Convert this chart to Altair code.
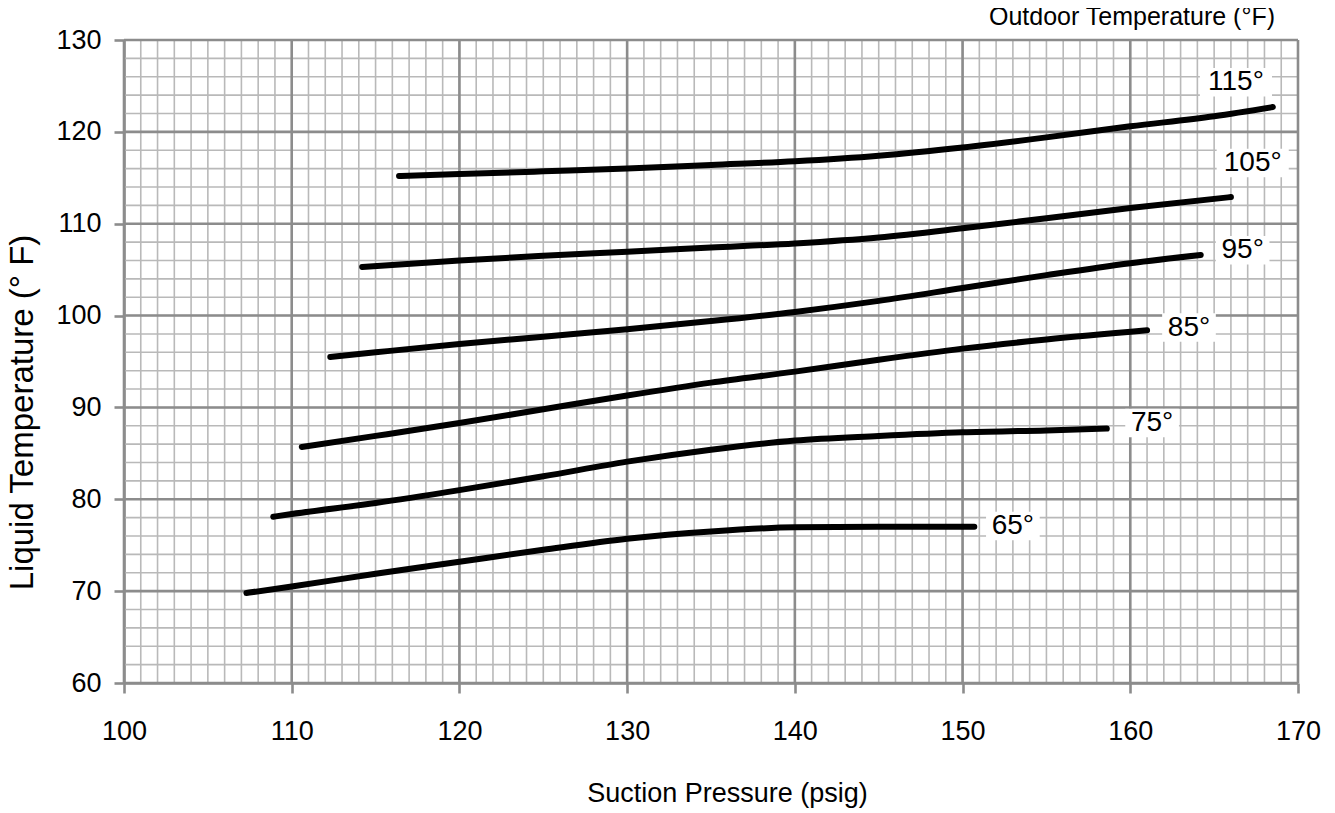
import altair as alt
import pandas as pd

# ---- data ----
series = ["65°", "75°", "85°", "95°", "105°", "115°"]

x65 = [107.3, 110, 115, 120, 125, 130, 135, 140, 145, 150.7]
y65 = [69.8, 70.5, 71.9, 73.2, 74.5, 75.7, 76.5, 76.95, 77.0, 77.0]

x75 = [108.9, 110, 115, 120, 125, 130, 135, 140, 145, 150, 155, 158.6]
y75 = [78.1, 78.4, 79.6, 81.0, 82.5, 84.1, 85.4, 86.4, 86.9, 87.3, 87.5, 87.7]

x85 = [110.6, 115, 120, 125, 130, 135, 140, 145, 150, 155, 161.0]
y85 = [85.7, 86.9, 88.3, 89.8, 91.3, 92.7, 93.9, 95.2, 96.4, 97.4, 98.4]

x95 = [112.3, 115, 120, 125, 130, 135, 140, 145, 150, 155, 160, 164.2]
y95 = [95.5, 96.0, 96.9, 97.7, 98.5, 99.4, 100.4, 101.6, 103.0, 104.4, 105.7, 106.6]

x105 = [114.2, 120, 125, 130, 135, 140, 145, 150, 155, 160, 166.0]
y105 = [105.3, 106.0, 106.5, 106.95, 107.4, 107.85, 108.5, 109.5, 110.6, 111.7, 112.9]

x115 = [116.4, 120, 125, 130, 135, 140, 145, 150, 155, 160, 165, 168.5]
y115 = [115.2, 115.4, 115.7, 116.0, 116.4, 116.8, 117.4, 118.3, 119.4, 120.6, 121.7, 122.7]

label_x = [153.0, 161.3, 163.5, 166.7, 167.3, 166.3]
label_y = [77.1, 88.3, 98.7, 107.1, 116.6, 125.4]

x_ticks = [100, 110, 120, 130, 140, 150, 160, 170]
y_ticks = [60, 70, 80, 90, 100, 110, 120, 130]
x_minor = list(range(100, 171, 1))
y_minor = list(range(60, 131, 2))

# ---- tables ----
rows = []
for name, xs, ys in zip(series,
                        [x65, x75, x85, x95, x105, x115],
                        [y65, y75, y85, y95, y105, y115]):
    for i, (a, b) in enumerate(zip(xs, ys)):
        rows.append({"series": name, "p": a, "t": b, "i": i})
curves = pd.DataFrame(rows)

labels = pd.DataFrame({"label": series, "lx": label_x, "ly": label_y})

XS = alt.Scale(domain=[100, 170], nice=False, zero=False)
YS = alt.Scale(domain=[60, 130], nice=False, zero=False)

FONT = "Liberation Sans"
MAJOR = "#8c8c8c"
MINOR = "#b9b9b9"

XAX = alt.Axis(values=x_ticks, title="Suction Pressure (psig)", grid=False,
               labelFlush=False, labelPadding=25,
               titleX=603, titleY=110, titleBaseline="middle", titleAlign="center",
               titleFontSize=27)
YAX = alt.Axis(values=y_ticks, title="Liquid Temperature (° F)", grid=False,
               labelFlush=False, labelPadding=13,
               titleX=-102, titleY=372, titleAngle=-90, titleBaseline="middle",
               titleAlign="center", titleFontSize=33)

xminor = alt.Chart(pd.DataFrame({"v": x_minor})).mark_rule(
    color=MINOR, strokeWidth=1.6).encode(
    x=alt.X("v:Q", scale=XS, axis=XAX))
yminor = alt.Chart(pd.DataFrame({"v": y_minor})).mark_rule(
    color=MINOR, strokeWidth=1.6).encode(
    y=alt.Y("v:Q", scale=YS, axis=YAX))
xmajor = alt.Chart(pd.DataFrame({"v": x_ticks})).mark_rule(
    color=MAJOR, strokeWidth=2.6).encode(
    x=alt.X("v:Q", scale=XS, axis=XAX))
ymajor = alt.Chart(pd.DataFrame({"v": y_ticks})).mark_rule(
    color=MAJOR, strokeWidth=2.6).encode(
    y=alt.Y("v:Q", scale=YS, axis=YAX))

lines = alt.Chart(curves).mark_line(
    color="black", strokeWidth=6, strokeCap="round", interpolate="monotone"
).encode(
    x=alt.X("p:Q", scale=XS, axis=XAX),
    y=alt.Y("t:Q", scale=YS, axis=YAX),
    detail="series:N",
    order="i:Q",
)

boxes = alt.Chart(labels).transform_calculate(
    hw="length(datum.label) > 3 ? 2.15 : 1.6",
    x1="datum.lx - datum.hw", x2="datum.lx + datum.hw",
    y1="datum.ly - 1.55", y2="datum.ly + 1.55",
).mark_rect(color="white").encode(
    x=alt.X("x1:Q", scale=XS, axis=XAX), x2="x2:Q",
    y=alt.Y("y1:Q", scale=YS, axis=YAX), y2="y2:Q",
)

texts = alt.Chart(labels).mark_text(
    font=FONT, fontSize=28, color="black", baseline="middle", align="center"
).encode(
    x=alt.X("lx:Q", scale=XS, axis=XAX), y=alt.Y("ly:Q", scale=YS, axis=YAX),
    text="label:N")

chart = alt.layer(xminor, yminor, xmajor, ymajor, lines, boxes, texts).properties(
    width=1174, height=643,
    title=alt.TitleParams("Outdoor Temperature (°F)", anchor="end", frame="group",
                          font=FONT, fontSize=25, fontWeight="normal",
                          color="black", baseline="middle", offset=4, dx=-23, dy=20),
    autosize=alt.AutoSizeParams(type="none"),
    padding={"left": 116, "top": 32, "right": 29, "bottom": 130},
).configure_view(stroke=None).configure_axis(
    labelFont=FONT, labelFontSize=27, labelColor="black",
    titleFont=FONT, titleColor="black", titleFontWeight="normal",
    domainColor=MAJOR, domainWidth=2.6, tickColor=MAJOR, tickWidth=2.6,
    tickSize=10,
)

chart.save("out.html", embed_options={"renderer": "svg", "actions": False})
